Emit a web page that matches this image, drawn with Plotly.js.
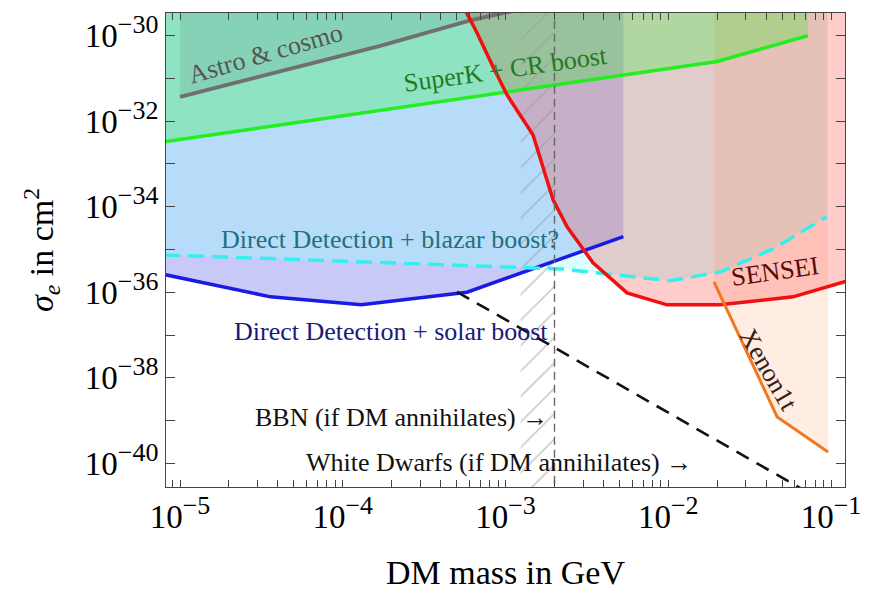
<!DOCTYPE html>
<html>
<head>
<meta charset="utf-8">
<script src="https://cdn.plot.ly/plotly-3.0.1.min.js"></script>
<style>
html,body{margin:0;padding:0;background:#fff;}
#chart{width:872px;height:592px;}
</style>
</head>
<body>
<div id="chart"></div>
<script>
// ---- data (DM mass in GeV, sigma_e in cm^2) ----
const massAstro = [1e-5, 4.1e-5, 1.7e-4, 6.0e-4, 1.35e-3];
const sigAstro  = [3.7e-32, 1.45e-31, 5.8e-31, 2.25e-30, 4.5e-30];

const massSuperK = [8e-6, 0.020, 0.072];
const sigSuperK  = [3.3e-33, 2.5e-31, 1.0e-30];

const massSolar = [8e-6, 3.6e-5, 1.3e-4, 5.8e-4, 5.3e-3];
const sigSolar  = [2.6e-36, 7.8e-37, 5.1e-37, 1.0e-36, 2.0e-35];

const massBlazar = [8e-6, 2.2e-3, 1.03e-2, 2.1e-2, 4.4e-2, 9.4e-2];
const sigBlazar  = [7.5e-36, 3.5e-36, 1.85e-36, 3.0e-36, 1.03e-35, 5.8e-35];

const massSensei = [5.56e-4, 6.68e-4, 8.38e-4, 1.02e-3, 1.475e-3, 1.70e-3, 1.96e-3, 2.39e-3, 3.45e-3, 5.58e-3, 9.83e-3, 2.08e-2, 5.84e-2, 0.13];
const sigSensei  = [4.5e-30, 1.17e-30, 1.88e-31, 4.16e-32, 4.8e-33, 8.6e-34, 1.45e-34, 3.39e-35, 4.87e-36, 9.66e-37, 5.07e-37, 5.07e-37, 7.8e-37, 1.9e-36];

const massXenon = [1.91e-2, 4.67e-2, 9.59e-2];
const sigXenon  = [1.75e-36, 1.21e-39, 1.84e-40];

const massWD = [5.03e-4, 6.46e-2];
const sigWD  = [1.02e-36, 2.64e-41];

const massBBNband = [1.24e-3, 2.0e-3];   // hatched band, dashed edge at upper value

const SUP = (e) => '10<sup><span style="font-size:26px">\u2212' + e + '</span></sup>';
const xTickVals = [];
const xTickText = [];
for (let e = -6; e <= -1; e++) {
  for (let d = 1; d <= 9; d++) {
    xTickVals.push(d * Math.pow(10, e));
    xTickText.push(d === 1 ? SUP(-e) : '');
  }
}
const yTickVals = [];
const yTickText = [];
for (let e = -41; e <= -29; e++) {
  yTickVals.push(Math.pow(10, e));
  yTickText.push(e % 2 === 0 ? SUP(-e) : '');
}

// region bounds beyond the visible window (clipped by the axes)
const SIG_TOP = 1e-29, SIG_BOT = 1e-42, MASS_RIGHT = 0.13;

function above(xs, ys) {
  return {x: xs.concat([xs[xs.length - 1], xs[0]]), y: ys.concat([SIG_TOP, SIG_TOP])};
}
function fillTrace(p, color) {
  return {x: p.x, y: p.y, type: 'scatter', mode: 'none', fill: 'toself', fillcolor: color, hoverinfo: 'skip'};
}
function lineTrace(xs, ys, color, width, dash) {
  return {x: xs, y: ys, type: 'scatter', mode: 'lines', line: {color: color, width: width, dash: dash || 'solid'}, hoverinfo: 'skip'};
}

const senseiPoly = {
  x: massSensei.concat([MASS_RIGHT, massSensei[0]]),
  y: sigSensei.concat([SIG_TOP, SIG_TOP])
};

const traces = [
  fillTrace(above(massSolar, sigSolar), 'rgba(120,120,235,0.40)'),
  fillTrace(above(massBlazar, sigBlazar), 'rgba(150,255,255,0.35)'),
  fillTrace(senseiPoly, 'rgba(255,0,0,0.20)'),
  fillTrace(above(massXenon, sigXenon), 'rgba(255,130,60,0.14)'),
  fillTrace(above(massSuperK, sigSuperK), 'rgba(0,255,0,0.22)'),
  fillTrace(above(massAstro, sigAstro), 'rgba(70,70,70,0.10)'),
  {
    x: [massBBNband[0], massBBNband[1], massBBNband[1], massBBNband[0]],
    y: [SIG_BOT, SIG_BOT, SIG_TOP, SIG_TOP],
    type: 'scatter', mode: 'none', fill: 'toself', fillcolor: 'rgba(0,0,0,0)',
    fillpattern: {shape: '/', fgcolor: '#999999', size: 18, solidity: 0.09, fillmode: 'overlay'},
    hoverinfo: 'skip'
  },
  lineTrace(massSuperK, sigSuperK, '#22ee22', 3.5),
  lineTrace(massAstro, sigAstro, '#707070', 4),
  lineTrace(massSolar, sigSolar, '#1a1ae6', 3.5),
  lineTrace(massBlazar, sigBlazar, '#33f0f0', 3.5, '16px,8px'),
  lineTrace(massSensei, sigSensei, '#f01010', 3.5),
  lineTrace(massXenon, sigXenon, '#f07820', 3),
  lineTrace(massWD, sigWD, '#111111', 2.6, '14px,9px'),
  lineTrace([massBBNband[1], massBBNband[1]], [SIG_BOT, SIG_TOP], '#666666', 1.4, '8px,5px')
];

const serif = 'Liberation Serif, Times New Roman, serif';
function ann(text, lx, ly, color, angle, xanchor) {
  return {text: text, x: lx, y: ly, xref: 'x', yref: 'y', showarrow: false,
          font: {family: serif, size: 26, color: color}, textangle: angle || 0,
          xanchor: xanchor || 'center', yanchor: 'middle'};
}

const layout = {
  width: 872, height: 592,
  margin: {l: 166, r: 27, t: 13, b: 105},
  paper_bgcolor: '#ffffff', plot_bgcolor: '#ffffff',
  showlegend: false, hovermode: false,
  font: {family: serif, color: '#000'},
  xaxis: {
    type: 'log', range: [-5.086, -0.914],
    tickmode: 'array', tickvals: xTickVals, ticktext: xTickText,
    ticks: 'inside', ticklen: 7, tickwidth: 1, tickcolor: '#444',
    showline: true, linecolor: '#444', linewidth: 1, mirror: 'ticks',
    showgrid: false, zeroline: false,
    tickfont: {family: serif, size: 33, color: '#000'},
    title: {text: 'DM mass in GeV', font: {family: serif, size: 34, color: '#000'}, standoff: 26}
  },
  yaxis: {
    type: 'log', range: [-40.555, -29.469],
    tickmode: 'array', tickvals: yTickVals, ticktext: yTickText,
    ticks: 'inside', ticklen: 9, tickwidth: 1, tickcolor: '#444',
    showline: true, linecolor: '#444', linewidth: 1, mirror: 'ticks',
    showgrid: false, zeroline: false,
    tickfont: {family: serif, size: 33, color: '#000'},
    title: {text: '<i>σ<sub>e</sub></i> in cm<sup>2</sup>', font: {family: serif, size: 34, color: '#000'}, standoff: 20}
  },
  annotations: [
    ann('Astro &amp; cosmo', -4.472, -30.42, '#555555', -16),
    ann('SuperK + CR boost', -3.003, -30.80, '#237a23', -8),
    ann('Direct Detection + blazar boost?', -3.710, -34.774, '#22707a'),
    ann('Direct Detection + solar boost', -3.704, -36.927, '#1a1a7a'),
    ann('BBN (if DM annihilates) \u2192', -2.727, -38.94, '#111111', 0, 'right'),
    ann('White Dwarfs (if DM annihilates) \u2192', -1.842, -39.993, '#111111', 0, 'right'),
    ann('SENSEI', -1.344, -35.523, '#5a0a0a', -8),
    ann('Xenon1t', -1.387, -37.817, '#3a2010', 60)
  ]
};

Plotly.newPlot('chart', traces, layout, {displayModeBar: false, staticPlot: true});
</script>
</body>
</html>
